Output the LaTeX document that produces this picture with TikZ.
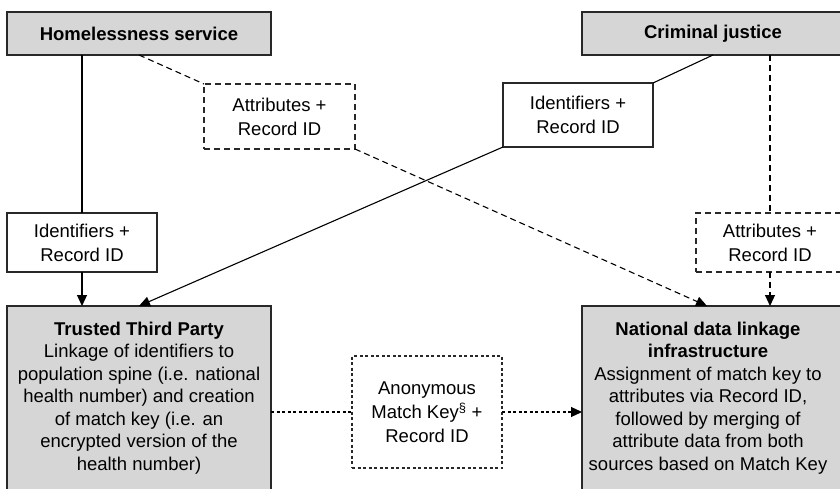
\documentclass[tikz,border=0pt]{standalone}
\usepackage{fontspec}
\setmainfont{Liberation Sans}
\usetikzlibrary{arrows.meta}
\definecolor{boxgray}{RGB}{214,214,214}
\definecolor{edge}{RGB}{40,40,40}
\begin{document}
\begin{tikzpicture}[x=1pt,y=-1pt,
  every node/.style={inner sep=0pt, outer sep=0pt, font=\fontsize{18.5}{24}\selectfont, align=center},
  graybox/.style={draw=edge, fill=boxgray, line width=1.1pt, anchor=north west},
  plainbox/.style={draw=edge, fill=white, line width=1.1pt, anchor=north west},
  dashbox/.style={plainbox, dash pattern=on 6pt off 4pt},
  dotbox/.style={plainbox, dash pattern=on 3pt off 2.5pt},
  conn/.style={draw=black, line width=1.1pt},
  dconn/.style={conn, dash pattern=on 6pt off 4pt},
  oconn/.style={conn, dash pattern=on 3pt off 2.5pt},
  tip/.style={-{Triangle[length=11pt,width=10pt]}},
  bigtext/.style={font=\fontsize{18.5}{22.5}\selectfont, anchor=north}
]
\clip (0,0) rectangle (840,489);
% top boxes
\node[graybox, minimum width=264pt, minimum height=43pt] (hs) at (7,12) {};
\node (hst) at (hs.center) {\textbf{Homelessness service}};
\node[graybox, minimum width=268pt, minimum height=43pt] (cj) at (582,12) {};
\node (cjt) at (713,33.5) {\textbf{Criminal justice}};
% middle boxes
\node[dashbox, minimum width=151pt, minimum height=65pt] (attrT) at (204,84) {};
\node (attrTt) at (attrT.center) {Attributes +\\Record ID};
\node[plainbox, minimum width=150pt, minimum height=64pt] (idT) at (503,83) {};
\node (idTt) at (idT.center) {Identifiers +\\Record ID};
\node[plainbox, minimum width=150pt, minimum height=59pt] (idL) at (7,213) {};
\node (idLt) at (idL.center) {Identifiers +\\Record ID};
\node[dashbox, minimum width=148pt, minimum height=59pt] (attrR) at (696,213) {};
\node (attrRt) at (attrR.center) {Attributes +\\Record ID};
% bottom boxes
\node[graybox, minimum width=264pt, minimum height=200pt] (ttp) at (7,306) {};
\node[bigtext] (ttpt) at (139,322) {\textbf{Trusted Third Party}\\Linkage of identifiers to\\population spine (i.e. national\\health number) and creation\\of match key (i.e. an\\encrypted version of the\\health number)};
\node[graybox, minimum width=268pt, minimum height=200pt] (ndl) at (582,306) {};
\node[bigtext] (ndlt) at (708,322) {\textbf{National data linkage}\\\textbf{infrastructure}\\Assignment of match key to\\attributes via Record ID,\\followed by merging of\\attribute data from both\\sources based on Match Key};
\node[dotbox, minimum width=150pt, minimum height=112pt] (anon) at (352,356) {};
\node (anont) at (anon.center) {Anonymous\\Match Key\textsuperscript{§} +\\Record ID};
\coordinate (ndlin) at (707,306);
% connectors
\draw[conn] (idL.north |- hs.south) -- (idL.north);
\draw[conn, tip] (idL.south) -- (idL.south |- ttp.north);
\draw[dconn] (hs.south) -- (attrT.north west);
\draw[dconn, tip] (attrT.south east) -- (ndlin);
\draw[conn] (cjt |- cj.south) -- (idT.north east);
\draw[conn, tip] (idT.south west) -- (ttpt.north |- ttp.north);
\draw[dconn] (attrR.north |- cj.south) -- (attrR.north);
\draw[dconn, tip] (attrR.south) -- (attrR.south |- ndl.north);
\draw[oconn] (ttp.east |- anon.west) -- (anon.west);
\draw[oconn, tip] (anon.east) -- (ndl.west |- anon.east);
\end{tikzpicture}
\end{document}
